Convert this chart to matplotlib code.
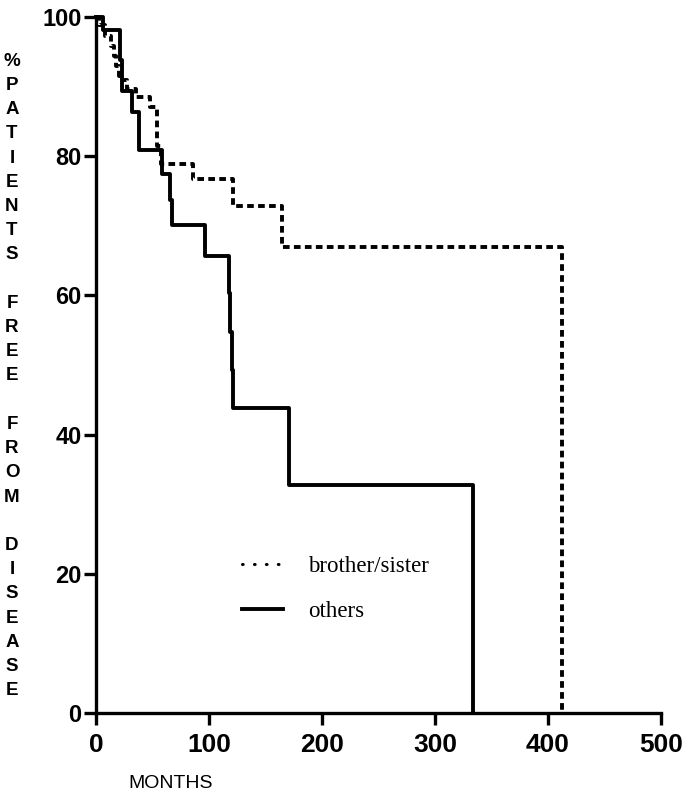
import matplotlib
matplotlib.use("Agg")
import matplotlib.pyplot as plt
from matplotlib.lines import Line2D

plt.rcParams['lines.scale_dashes'] = False

# survival steps (months, % free from disease)
others_t = [0, 6.5, 21.2, 22.7, 31.6, 38.3, 58, 65.5, 67.5, 96.5, 118, 118.8, 120.1, 121.5, 171, 334]
others_s = [100, 98.2, 93.8, 89.3, 86.4, 80.9, 77.5, 73.7, 70.1, 65.7, 60.3, 54.7, 49.3, 43.8, 32.8, 0]

sib_t = [0, 3, 8, 13, 16, 18, 20, 23, 27, 35, 48, 54, 57.5, 85.5, 121, 164.3, 412]
sib_s = [100, 98.8, 97.3, 95.9, 94.4, 92.9, 91.5, 90.9, 89.6, 88.5, 87.1, 81.5, 78.9, 76.7, 72.9, 66.9, 0]

xticks = [0, 100, 200, 300, 400, 500]
yticks = [0, 20, 40, 60, 80, 100]
ylabel = "%PATIENTS FREE FROM DISEASE"

fig = plt.figure(figsize=(6.87, 7.95), dpi=100)
ax = fig.add_axes([96/687, 1-713/795, 565/687, 696/795])

ax.step(sib_t, sib_s, where='post', color='black', lw=2.8,
        dashes=(4.8, 3.1), clip_on=False)
ax.step(others_t, others_s, where='post', color='black', lw=2.8, clip_on=False)

ax.set_xlim(0, 500)
ax.set_ylim(0, 100)
ax.set_xticks(xticks)
ax.set_yticks(yticks)
for s in ['top', 'right']:
    ax.spines[s].set_visible(False)
for s in ['left', 'bottom']:
    ax.spines[s].set_linewidth(2.4)
ax.tick_params(direction='out', length=8.5, width=2.4)
ax.tick_params(axis='x', pad=6)
ax.tick_params(axis='y', pad=2)
for lab in ax.get_xticklabels():
    lab.set_fontfamily('Liberation Sans')
    lab.set_fontweight('bold')
    lab.set_fontsize(19)
for lab in ax.get_yticklabels():
    lab.set_fontfamily('Liberation Sans')
    lab.set_fontweight('bold')
    lab.set_fontsize(17)

# stacked y label, one letter per line
fig.text(12/687, 1-376/795, "\n".join(ylabel), ha='center', va='center',
         fontsize=13.5, fontweight='bold', family='Liberation Sans', linespacing=1.555)
fig.text(128/687, 1-783/795, "MONTHS", ha='left', va='center',
         fontsize=14, family='Liberation Sans')

handles = [Line2D([], [], color='black', lw=2.2, linestyle=(0, (0.5, 8.1)),
                  dash_capstyle='round'),
           Line2D([], [], color='black', lw=2.8)]
ax.legend(handles, ['brother/sister', 'others'], loc='upper left',
          bbox_to_anchor=(0.258, 0.226), frameon=False, borderpad=0,
          borderaxespad=0, handlelength=1.8, handletextpad=1.1,
          labelspacing=1.05, prop={'family': 'Liberation Serif', 'size': 16.5})

fig.savefig("out.png", dpi=100)
